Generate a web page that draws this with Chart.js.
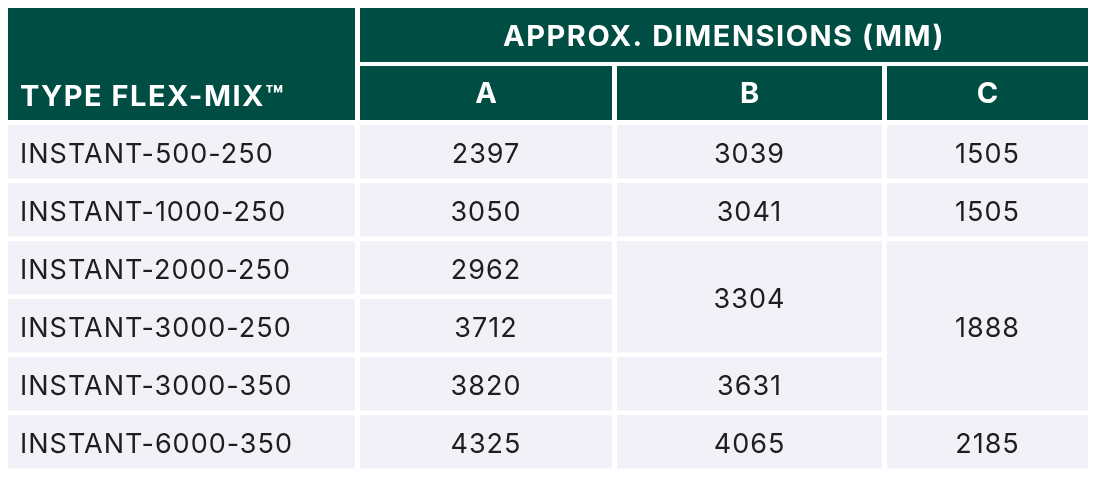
<!DOCTYPE html>
<html><head><meta charset="utf-8">
<script src="https://cdn.jsdelivr.net/npm/chart.js@4"></script>
<style>html,body{margin:0;background:#fff}#c{display:block}</style>
</head><body>
<div style="width:1104px;height:497px"><canvas id="c"></canvas></div>
<script>
const groupTitle = "APPROX. DIMENSIONS (MM)";
const firstHeader = "TYPE FLEX-MIX\u2122";
const columns = ["A", "B", "C"];
const types = ["INSTANT-500-250","INSTANT-1000-250","INSTANT-2000-250","INSTANT-3000-250","INSTANT-3000-350","INSTANT-6000-350"];
const valA = [2397, 3050, 2962, 3712, 3820, 4325];
const valB = [3039, 3041, 3304, null, 3631, 4065];
const spanB = [1, 1, 2, 0, 1, 1];
const valC = [1505, 1505, 1888, null, null, 2185];
const spanC = [1, 1, 3, 0, 0, 1];

// layout
const colX = [[8,355],[360,612],[617,882],[887,1088]];
const headTop = 8, headMid = 62, subTop = 66, headBot = 120;
const rowTop = 125, rowH = 53.5, rowGap = 4.5;
const green = "#004d43", body = "#f3f1f8", ink = "#1e1e1e";

const tablePlugin = {
  id: "table",
  afterDraw(chart) {
    const {ctx, scales: {x, y}} = chart;
    const px = v => x.getPixelForValue(v), py = v => y.getPixelForValue(v);
    const rect = (x0, y0, x1, y1, col) => { ctx.fillStyle = col; ctx.fillRect(px(x0), py(y0), px(x1) - px(x0), py(y1) - py(y0)); };
    const text = (t, xx, yy, align, font, col, sp) => {
      ctx.font = font; ctx.fillStyle = col; ctx.textAlign = align; ctx.textBaseline = "middle";
      ctx.letterSpacing = sp; ctx.fillText(t, px(xx), py(yy));
    };
    const hf = "bold 29px Inter, 'Liberation Sans', sans-serif";
    const bf = "27px Inter, 'Liberation Sans', sans-serif";
    ctx.save();
    rect(colX[0][0], headTop, colX[0][1], headBot, green);
    text(firstHeader, 20, 97, "left", hf, "#fff", "1.5px");
    rect(colX[1][0], headTop, colX[3][1], headMid, green);
    text(groupTitle, (colX[1][0] + colX[3][1]) / 2, 37, "center", hf, "#fff", "1.5px");
    columns.forEach((c, i) => {
      const [a, b] = colX[i + 1];
      rect(a, subTop, b, headBot, green);
      text(c, (a + b) / 2, 94, "center", hf, "#fff", "0px");
    });
    const top = r => rowTop + r * (rowH + rowGap);
    const cell = (ci, r, span, val, align) => {
      if (!span) return;
      const [a, b] = colX[ci];
      const y0 = top(r), y1 = top(r + span - 1) + rowH;
      rect(a, y0, b, y1, body);
      const xx = align === "left" ? a + 12 : (a + b) / 2;
      text(String(val), xx, (y0 + y1) / 2 + 3, align, bf, ink, "1px");
    };
    types.forEach((t, r) => {
      cell(0, r, 1, t, "left");
      cell(1, r, 1, valA[r], "center");
      cell(2, r, spanB[r], valB[r], "center");
      cell(3, r, spanC[r], valC[r], "center");
    });
    ctx.restore();
  }
};

new Chart(document.getElementById("c"), {
  type: "scatter",
  data: { datasets: [{ data: [] }] },
  options: {
    responsive: true, maintainAspectRatio: false, animation: false,
    layout: { padding: 0 },
    plugins: { legend: { display: false }, tooltip: { enabled: false } },
    scales: {
      x: { type: "linear", min: 0, max: 1104, display: false },
      y: { type: "linear", min: 0, max: 497, reverse: true, display: false }
    }
  },
  plugins: [tablePlugin]
});
</script>
</body></html>
